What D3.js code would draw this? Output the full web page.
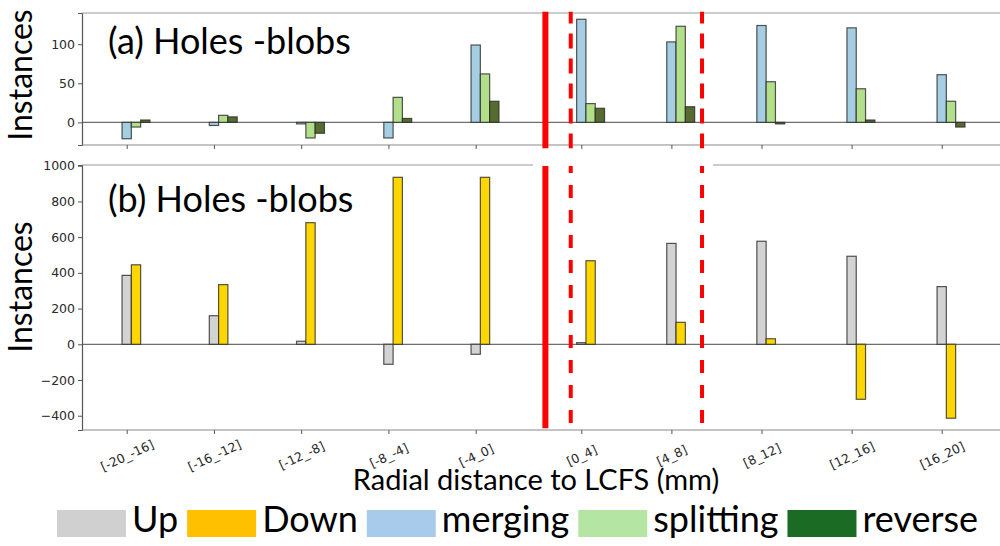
<!DOCTYPE html>
<html>
<head>
<meta charset="utf-8">
<script src="https://cdn.jsdelivr.net/npm/d3@7"></script>
<style>
  body { margin: 0; background: #fff; }
  svg { display: block; }
</style>
</head>
<body>
<div id="chart"></div>
<script>
// data
var categories = ["[-20_-16]", "[-16_-12]", "[-12_-8]", "[-8_-4]", "[-4_0]",
                  "[0_4]", "[4_8]", "[8_12]", "[12_16]", "[16_20]"];
var upValues        = [386, 160, 17, -112, -56, 9, 565, 577, 493, 323];
var downValues      = [445, 334, 681, 935, 935, 468, 123, 31, -308, -414];
var mergingValues   = [-21, -4, -2, -20, 99, 132, 103, 124, 121, 61];
var splittingValues = [-6, 9, -20, 32, 62, 24, 123, 52, 43, 27];
var reverseValues   = [3, 7, -14, 5, 27, 18, 20, -2, 3, -6];
var topTicks = [0, 50, 100];
var bottomTicks = [-400, -200, 0, 200, 400, 600, 800, 1000];
var legendLabels = ["Up", "Down", "merging", "splitting", "reverse"];
// red marker lines, in category-index units (solid first, then dashed)
var lcfsSolid = [4.66];
var lcfsDashed = [4.90, 6.34];

function init() {
    var w = 1000, h = 546;
    var left = 82, right = 1000;
    var barW = 9.3;

    var svg = d3.select("#chart").append("svg")
        .attr("width", w).attr("height", h)
        .style("font-family", "Lato, sans-serif");

    // categories are not evenly spaced in the figure (gap around LCFS)
    var x = d3.scaleLinear()
        .domain([0, 4, 5, 9])
        .range([126.7, 475.7, 581.3, 941.7]);

    var panels = [
        { top: 13, bottom: 145, domain: [-29, 140], ticks: topTicks,
          series: [mergingValues, splittingValues, reverseValues],
          fills: ["#a6cee3", "#b2df8a", "#556b2f"],
          title: "(a) Holes -blobs", titleY: 54, labelY: 75,
          showLabels: false, dash: "15,10", dashOff: 3.3,
          lineTop: 11.7, lineBottom: 148.3 },
        { top: 165, bottom: 430, domain: [-480, 1004], ticks: bottomTicks,
          series: [upValues, downValues],
          fills: ["#d3d3d3", "#ffd700"],
          title: "(b) Holes -blobs", titleY: 211.5, labelY: 287,
          showLabels: true, dash: "13,12", dashOff: 6,
          lineTop: 166, lineBottom: 428.3 }
    ];

    panels.forEach(function (p) {
        var y = d3.scaleLinear().domain(p.domain).range([p.bottom, p.top]);
        var g = svg.append("g");

        // zero line
        g.append("line")
            .attr("x1", left).attr("x2", right)
            .attr("y1", y(0)).attr("y2", y(0))
            .attr("stroke", "#6e6e6e").attr("stroke-width", 1.2);

        // bars
        var sub = d3.scaleBand().domain(d3.range(p.series.length))
            .range([-barW / 2, -barW / 2 + p.series.length * barW]);
        p.series.forEach(function (vals, si) {
            g.selectAll(null)
                .data(vals)
                .enter()
                .append("rect")
                .attr("x", function (d, i) { return x(i) + sub(si); })
                .attr("width", sub.bandwidth())
                .attr("y", function (d) { return y(Math.max(0, d)); })
                .attr("height", function (d) { return Math.abs(y(d) - y(0)); })
                .attr("fill", p.fills[si])
                .attr("stroke", "#2b2b2b")
                .attr("stroke-opacity", 0.8)
                .attr("stroke-width", 1.2);
        });

        // y axis
        var yAxis = d3.axisLeft(y).tickValues(p.ticks).tickFormat(d3.format("d"))
            .tickSizeOuter(0).tickSize(4).tickPadding(3);
        var ya = g.append("g").attr("transform", "translate(" + left + ",0)").call(yAxis);
        ya.select(".domain").attr("stroke", "#555").attr("stroke-width", 1.2);
        ya.selectAll(".tick line").attr("stroke", "#555");
        ya.selectAll(".tick text")
            .attr("font-family", "DejaVu Sans, sans-serif")
            .attr("font-size", "12.5px").attr("fill", "#2a2a2a");

        // x axis
        var xAxis = d3.axisBottom(x).tickValues(d3.range(categories.length))
            .tickSizeOuter(0).tickSize(4)
            .tickFormat(function (i) { return p.showLabels ? categories[i] : ""; });
        var xa = g.append("g").attr("transform", "translate(0," + p.bottom + ")").call(xAxis);
        xa.select(".domain").attr("d", "M" + left + ",0H" + right)
            .attr("stroke", "#8a8a8a").attr("stroke-width", 1.2);
        xa.selectAll(".tick line").attr("stroke", "#555");
        xa.selectAll(".tick text")
            .attr("font-family", "DejaVu Sans, sans-serif")
            .attr("font-size", "12.5px").attr("fill", "#2a2a2a")
            .attr("text-anchor", "middle")
            .attr("y", 0).attr("dy", "0.35em")
            .attr("transform", "translate(0,25.5) rotate(-25)");

        // top spine
        if (p.showLabels) {
            // the lower panel's top spine is broken around the markers
            [[left, 533], [713, right]].forEach(function (s) {
                g.append("line").attr("x1", s[0]).attr("x2", s[1])
                    .attr("y1", p.top).attr("y2", p.top)
                    .attr("stroke", "#9a9a9a").attr("stroke-width", 1.2);
            });
        } else {
            g.append("line").attr("x1", left).attr("x2", right)
                .attr("y1", p.top).attr("y2", p.top)
                .attr("stroke", "#9a9a9a").attr("stroke-width", 1.2);
        }

        // panel title
        g.append("text")
            .attr("x", 108).attr("y", p.titleY)
            .attr("font-size", "36px").attr("fill", "#000")
            .text(p.title);

        // y label
        g.append("text")
            .attr("transform", "translate(32," + p.labelY + ") rotate(-90)")
            .attr("text-anchor", "middle")
            .attr("font-size", "32px").attr("fill", "#000")
            .text("Instances");

        // red marker lines
        g.selectAll(null).data(lcfsSolid).enter().append("line")
            .attr("x1", function (d) { return x(d); }).attr("x2", function (d) { return x(d); })
            .attr("y1", p.lineTop).attr("y2", p.lineBottom)
            .attr("stroke", "#ff0000").attr("stroke-width", 6);
        g.selectAll(null).data(lcfsDashed).enter().append("line")
            .attr("x1", function (d) { return x(d); }).attr("x2", function (d) { return x(d); })
            .attr("y1", p.lineTop).attr("y2", p.lineBottom)
            .attr("stroke", "#ff0000").attr("stroke-width", 4)
            .attr("stroke-dasharray", p.dash).attr("stroke-dashoffset", p.dashOff);
    });

    // x label
    svg.append("text")
        .attr("x", 536).attr("y", 489.5)
        .attr("text-anchor", "middle")
        .attr("font-size", "29px").attr("fill", "#000")
        .text("Radial distance to LCFS (mm)");

    // legend
    var legendFills = ["#d0d0d0", "#ffc000", "#a9cbeb", "#b5e5a2", "#1b6b24"];
    var lx = 57;
    legendLabels.forEach(function (name, i) {
        svg.append("rect")
            .attr("x", lx).attr("y", 510)
            .attr("width", 69).attr("height", 27)
            .attr("fill", legendFills[i]);
        var t = svg.append("text")
            .attr("x", lx + 75).attr("y", 532)
            .attr("font-size", "36px").attr("fill", "#000")
            .text(name);
        lx = lx + 75 + t.node().getComputedTextLength() + 9;
    });
}

window.onload = init;
</script>
</body>
</html>
